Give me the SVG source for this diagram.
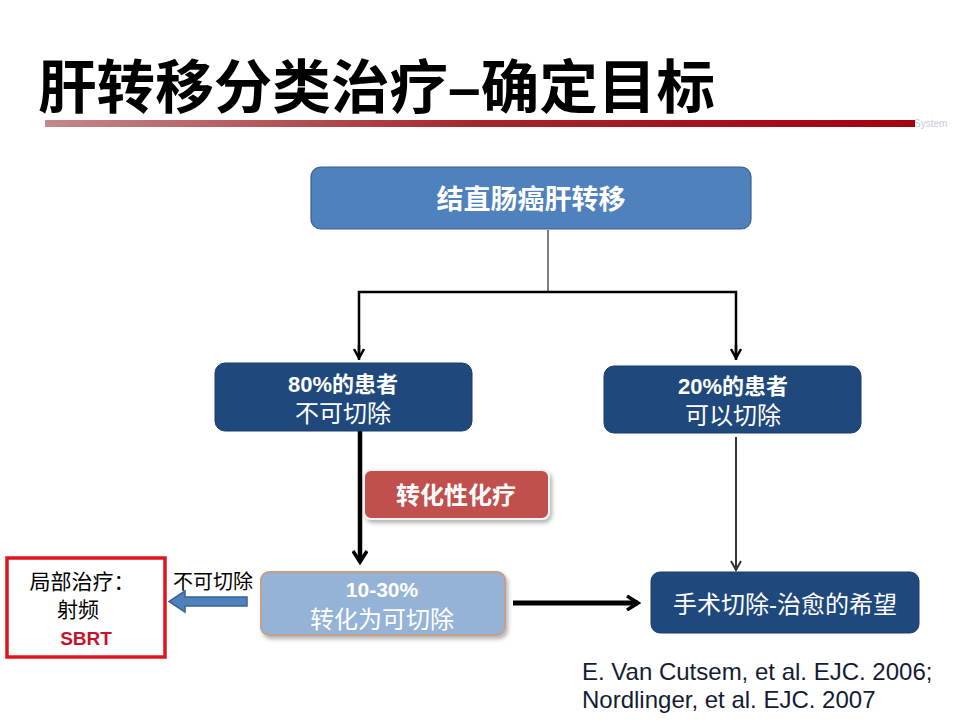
<svg xmlns="http://www.w3.org/2000/svg" width="960" height="720" viewBox="0 0 960 720">
<style>
.cjk{font-family:"Liberation Sans","Noto Sans CJK SC",sans-serif}
.wb{fill:#fff;font-weight:bold;text-anchor:middle}
.wt{fill:#fff;text-anchor:middle}
.navy{fill:#1f497d;stroke:#1a3c6a;stroke-width:1}
</style>
<defs>
<linearGradient id="bar" x1="0" x2="1" y1="0" y2="0">
<stop offset="0" stop-color="#c4888a"/>
<stop offset="0.5" stop-color="#a3262c"/>
<stop offset="1" stop-color="#a50010"/>
</linearGradient>
<marker id="ah" viewBox="0 0 12 12" refX="10" refY="6" markerWidth="12" markerHeight="12" markerUnits="userSpaceOnUse" orient="auto">
<path d="M1,1 L10,6 L1,11" fill="none" stroke="#000" stroke-width="2.5"/>
</marker>
<marker id="ahb" viewBox="0 0 16 16" refX="13" refY="8" markerWidth="16" markerHeight="16" markerUnits="userSpaceOnUse" orient="auto">
<path d="M2,1 L13,8 L2,15" fill="none" stroke="#000" stroke-width="3.5"/>
</marker>
<marker id="ahg" viewBox="0 0 12 12" refX="10" refY="6" markerWidth="12" markerHeight="12" markerUnits="userSpaceOnUse" orient="auto">
<path d="M1,1 L10,6 L1,11" fill="none" stroke="#333" stroke-width="2"/>
</marker>
<filter id="sh" x="-10%" y="-20%" width="130%" height="150%">
<feDropShadow dx="2" dy="3" stdDeviation="2" flood-color="#000" flood-opacity="0.3"/>
</filter>
</defs>
<rect width="960" height="720" fill="#fff"/>

<g id="title">
<text x="38" y="108" class="cjk" font-size="58" font-weight="bold" fill="#000" textLength="677" lengthAdjust="spacingAndGlyphs">肝转移分类治疗–确定目标</text>
<text x="914" y="127" font-family="Liberation Sans,sans-serif" font-size="10" fill="#c8ccd8">System</text>
<rect x="45" y="120" width="870" height="7" fill="url(#bar)"/>
</g>

<g id="connectors">
<line x1="548" y1="230" x2="548" y2="292" stroke="#555" stroke-width="1.5"/>
<polyline points="359,360 359,292 736,292 736,360" fill="none" stroke="#000" stroke-width="2.5"/>
<line x1="359" y1="345" x2="359" y2="358" stroke="#000" stroke-width="2.5" marker-end="url(#ah)"/>
<line x1="736" y1="345" x2="736" y2="358" stroke="#000" stroke-width="2.5" marker-end="url(#ah)"/>
<line x1="360" y1="431" x2="360" y2="562" stroke="#000" stroke-width="4.5" marker-end="url(#ahb)"/>
<line x1="736" y1="437" x2="736" y2="570" stroke="#333" stroke-width="2" marker-end="url(#ahg)"/>
<line x1="513" y1="603" x2="638" y2="603" stroke="#000" stroke-width="5" marker-end="url(#ahb)"/>
<path d="M247,597 L185,597 L185,591 L169,601.5 L185,612 L185,606 L247,606 Z" fill="#4f81bd" stroke="#3a6396" stroke-width="1.5"/>
</g>

<g id="n-top">
<rect x="311" y="167" width="440" height="62" rx="10" fill="#4f81bd" stroke="#3c5f8f" stroke-width="1.2"/>
<text x="531" y="209" class="cjk wb" font-size="27">结直肠癌肝转移</text>
</g>

<g id="n-80">
<rect x="215" y="363" width="257" height="68" rx="10" class="navy"/>
<text x="343" y="392" class="cjk wb" font-size="22">80%的患者</text>
<text x="343" y="422" class="cjk wt" font-size="24">不可切除</text>
</g>

<g id="n-20">
<rect x="604" y="366" width="257" height="67" rx="10" class="navy"/>
<text x="733" y="394" class="cjk wb" font-size="22">20%的患者</text>
<text x="733" y="424" class="cjk wt" font-size="24">可以切除</text>
</g>

<g id="n-chemo">
<rect x="364" y="470" width="185" height="49" rx="7" fill="#c0504d" stroke="#f2f2f2" stroke-width="2" filter="url(#sh)"/>
<text x="456" y="504" class="cjk wb" font-size="24">转化性化疗</text>
</g>

<g id="n-conv">
<rect x="261" y="572" width="244" height="63" rx="8" fill="#95b3d7" stroke="#c4a08c" stroke-width="2" filter="url(#sh)"/>
<text x="382" y="597" class="cjk wb" font-size="21">10-30%</text>
<text x="382" y="628" class="cjk wt" font-size="24">转化为可切除</text>
</g>

<g id="n-surg">
<rect x="651" y="572" width="268" height="61" rx="9" class="navy"/>
<text x="785" y="613" class="cjk wt" font-size="24">手术切除-治愈的希望</text>
</g>

<g id="n-local">
<rect x="7" y="558" width="158" height="99" fill="#fff" stroke="#e0141e" stroke-width="3.5"/>
<text x="82" y="589" class="cjk" font-size="21" fill="#000" text-anchor="middle">局部治疗：</text>
<text x="78" y="617" class="cjk" font-size="21" fill="#000" text-anchor="middle">射频</text>
<text x="86" y="645" class="cjk" font-size="19" font-weight="bold" fill="#c8142a" text-anchor="middle">SBRT</text>
</g>

<g id="lbl-unres">
<text x="173" y="589" class="cjk" font-size="20" fill="#000">不可切除</text>
</g>

<g id="citation">
<text x="582" y="680" font-family="Liberation Sans,sans-serif" font-size="24" fill="#141c33">E. Van Cutsem, et al. EJC. 2006;</text>
<text x="582" y="708" font-family="Liberation Sans,sans-serif" font-size="24" fill="#141c33">Nordlinger, et al. EJC. 2007</text>
</g>
</svg>
